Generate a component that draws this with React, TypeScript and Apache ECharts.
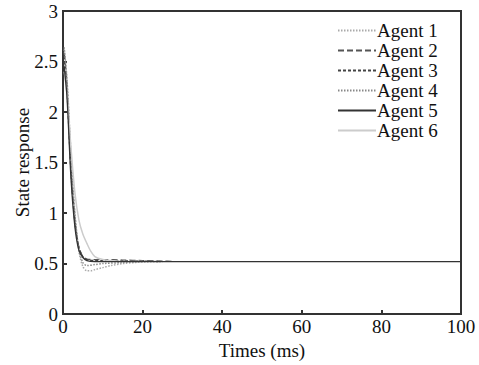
import React, { useEffect, useRef } from "react";
import * as echarts from "echarts";

const agentNames = ["Agent 1", "Agent 2", "Agent 3", "Agent 4", "Agent 5", "Agent 6"];

const t1 = [0.3, 1, 2, 3, 4, 5, 6, 7, 8, 10, 12, 15, 18, 22, 25];
const v1 = [2.62, 2.32, 1.6, 1.0, 0.62, 0.47, 0.43, 0.43, 0.44, 0.46, 0.48, 0.5, 0.51, 0.52, 0.52];

const t2 = [0.3, 1, 2, 3, 4, 5, 6, 8, 10, 15, 20, 25, 28];
const v2 = [2.58, 2.25, 1.45, 0.92, 0.66, 0.57, 0.545, 0.54, 0.54, 0.535, 0.53, 0.525, 0.52];

const t3 = [0.3, 1, 2, 3, 4, 5, 6, 8, 10, 15, 20, 24];
const v3 = [2.5, 2.2, 1.4, 0.9, 0.66, 0.57, 0.54, 0.53, 0.53, 0.53, 0.525, 0.52];

const t4 = [0.3, 1, 2, 3, 4, 5, 6, 8, 10, 15, 20, 25];
const v4 = [2.64, 2.32, 1.55, 0.98, 0.64, 0.51, 0.48, 0.49, 0.5, 0.51, 0.52, 0.52];

const t5 = [0.3, 1, 2, 3, 4, 5, 6, 8, 10, 15, 20, 100];
const v5 = [2.45, 2.15, 1.35, 0.86, 0.63, 0.56, 0.53, 0.52, 0.52, 0.52, 0.52, 0.52];

const t6 = [0.3, 1, 2, 3, 4, 5, 6, 7, 8, 10, 12, 15, 20];
const v6 = [2.4, 2.18, 1.65, 1.2, 0.93, 0.79, 0.7, 0.62, 0.57, 0.54, 0.53, 0.52, 0.52];

const xTicks = [0, 20, 40, 60, 80, 100];
const yTicks = [0, 0.5, 1, 1.5, 2, 2.5, 3];

const times = [t1, t2, t3, t4, t5, t6];
const values = [v1, v2, v3, v4, v5, v6];

const lineStyles = [
  { color: "#aaaaaa", type: [1.5, 1.5], width: 1.5 },
  { color: "#555555", type: [6, 3], width: 1.3 },
  { color: "#444444", type: [3, 2], width: 1.3 },
  { color: "#888888", type: [1.5, 1.5], width: 1.5 },
  { color: "#333333", type: "solid", width: 1.3 },
  { color: "#cccccc", type: "solid", width: 1.5 },
];

const FONT = "'Liberation Serif', 'Times New Roman', serif";

export default function App() {
  const ref = useRef<HTMLDivElement>(null);
  useEffect(() => {
    if (!ref.current) return;
    const chart = echarts.init(ref.current, null, { renderer: "svg" });
    const series = agentNames.map((name, i) => ({
      name,
      type: "line",
      showSymbol: false,
      symbol: "none",
      smooth: 0.3,
      data: times[i].map((t, k) => [t, values[i][k]]),
      lineStyle: lineStyles[i],
      itemStyle: { color: lineStyles[i].color },
      z: i === 4 ? 5 : 3,
    }));
    chart.setOption({
      animation: false,
      backgroundColor: "#ffffff",
      textStyle: { fontFamily: FONT },
      grid: {
        left: 63,
        right: 18,
        top: 11,
        bottom: 42,
        show: true,
        borderColor: "#333333",
        borderWidth: 2,
        backgroundColor: "transparent",
      },
      legend: {
        orient: "vertical",
        left: 337,
        top: 21,
        itemWidth: 38,
        itemHeight: 12,
        itemGap: 1,
        padding: 0,
        itemStyle: { opacity: 0 },
        textStyle: { fontFamily: FONT, fontSize: 19, color: "#111", lineHeight: 18, padding: [0, 0, 0, -4] },
        data: agentNames,
      },
      xAxis: {
        type: "value",
        min: xTicks[0],
        max: xTicks[xTicks.length - 1],
        interval: 20,
        name: "Times (ms)",
        nameLocation: "middle",
        nameGap: 19,
        nameTextStyle: { fontFamily: FONT, fontSize: 19, color: "#111" },
        axisLine: { show: true, lineStyle: { color: "#333333", width: 2 } },
        axisTick: { show: true, inside: true, length: 4, lineStyle: { color: "#333333", width: 2 } },
        axisLabel: { fontFamily: FONT, fontSize: 19, color: "#111", margin: 3 },
        splitLine: { show: false },
      },
      yAxis: {
        type: "value",
        min: yTicks[0],
        max: yTicks[yTicks.length - 1],
        interval: 0.5,
        name: "State response",
        nameLocation: "middle",
        nameGap: 31,
        nameMoveOverlap: false,
        nameTextStyle: { fontFamily: FONT, fontSize: 19, color: "#111" },
        axisLine: { show: true, lineStyle: { color: "#333333", width: 2 } },
        axisTick: { show: true, inside: true, length: 4, lineStyle: { color: "#333333", width: 2 } },
        axisLabel: { fontFamily: FONT, fontSize: 19, color: "#111", margin: 5 },
        splitLine: { show: false },
      },
      series,
    });
    return () => chart.dispose();
  }, []);
  return <div ref={ref} style={{ width: 479, height: 365, position: "fixed", left: 0, top: 0 }} />;
}
